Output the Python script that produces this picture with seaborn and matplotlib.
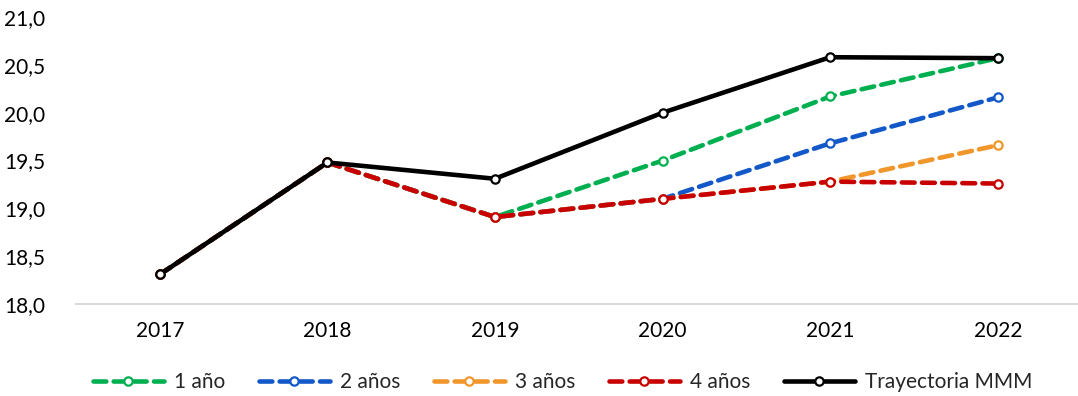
import matplotlib
matplotlib.use("Agg")
import matplotlib.pyplot as plt
import seaborn as sns
import pandas as pd
import numpy as np

years = ["2017", "2018", "2019", "2020", "2021", "2022"]
uno = [18.31, 19.48, 18.91, 19.50, 20.17, 20.57]
dos = [18.31, 19.48, 18.91, 19.10, 19.68, 20.16]
tres = [18.31, 19.48, 18.91, 19.10, 19.28, 19.66]
cuatro = [18.31, 19.48, 18.91, 19.10, 19.28, 19.26]
mmm = [18.31, 19.48, 19.31, 20.00, 20.58, 20.57]

names = ["1 año", "2 años", "3 años", "4 años", "Trayectoria MMM"]
series = [uno, dos, tres, cuatro, mmm]
colors = ["#00B050", "#1258C8", "#F0962A", "#C80000", "#000000"]

sns.set_theme(style="white")
plt.rcParams["font.family"] = ["Lato", "DejaVu Sans"]

fig = plt.figure(figsize=(10.78, 3.96), dpi=100)
ax = fig.add_axes([0.0705, 0.232, 0.9328, 0.725])

rows = []
for n, vals in zip(names, series):
    for i, v in enumerate(vals):
        rows.append({"x": i, "y": v, "serie": n})
df = pd.DataFrame(rows)

for n, c in zip(names, colors):
    sub = df[df["serie"] == n]
    dashed = n != "Trayectoria MMM"
    sns.lineplot(data=sub, x="x", y="y", ax=ax, color=c, lw=3.3,
                 marker="o", markersize=6.0, markerfacecolor="white",
                 markeredgecolor=c, markeredgewidth=1.6, label=n,
                 legend=False)
    line = ax.lines[-1]
    line.set_solid_capstyle("round")
    if dashed:
        line.set_linestyle((0, (2.8, 1.6)))
        line.set_dash_capstyle("round")

ax.set_xlim(-0.5, 5.5)
ax.set_ylim(18.0, 21.0)
ax.set_xticks(range(len(years)))
ax.set_xticklabels(years)
yt = np.arange(18.0, 21.01, 0.5)
ax.set_yticks(yt)
ax.set_yticklabels([f"{v:.1f}".replace(".", ",") for v in yt])
ax.set_xlabel("")
ax.set_ylabel("")
for s in ["top", "right", "left"]:
    ax.spines[s].set_visible(False)
ax.spines["bottom"].set_color("#D9D9D9")
ax.spines["bottom"].set_linewidth(1.5)
ax.tick_params(axis="both", length=0, labelsize=15, colors="#000000")
ax.tick_params(axis="y", pad=22)
ax.tick_params(axis="x", pad=12)
ax.grid(False)

handles = ax.lines
fig.legend(handles, names, loc="center", bbox_to_anchor=(0.522, 0.035),
           ncol=5, frameon=False, fontsize=15, handlelength=3.4,
           handletextpad=0.5, columnspacing=1.6)

fig.savefig("out.png", dpi=100)
